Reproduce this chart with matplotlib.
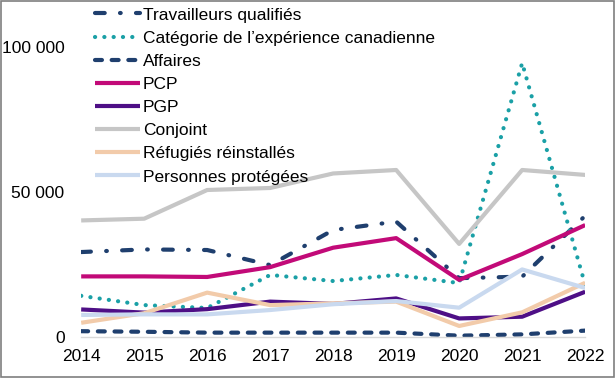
import matplotlib
matplotlib.use("Agg")
import matplotlib.pyplot as plt
from matplotlib.patches import Rectangle
from matplotlib.ticker import FuncFormatter

plt.rcParams['font.family'] = ['Liberation Sans', 'DejaVu Sans']
plt.rcParams['lines.scale_dashes'] = False

years = [2014, 2015, 2016, 2017, 2018, 2019, 2020, 2021, 2022]
travailleurs = [29300, 30200, 30000, 24800, 36900, 39800, 20300, 20800, 41800]
cec = [14200, 11000, 10000, 21400, 19300, 21400, 18600, 94500, 18000]
affaires = [2000, 1800, 1500, 1500, 1500, 1500, 450, 900, 2200]
pcp = [20900, 20900, 20700, 24100, 30800, 34100, 19700, 28600, 38600]
pgp = [9500, 8400, 9600, 12200, 11400, 13300, 6400, 7000, 15600]
conjoint = [40200, 40800, 50700, 51400, 56400, 57600, 32100, 57600, 55900]
refugies = [4900, 8200, 15300, 11000, 11600, 12200, 3800, 8500, 18700]
protegees = [7600, 7800, 7800, 9300, 11300, 12400, 10100, 23300, 16900]

labels = ["Travailleurs qualifiés", "Catégorie de l\u2019expérience canadienne",
          "Affaires", "PCP", "PGP", "Conjoint", "Réfugiés réinstallés",
          "Personnes protégées"]

fig = plt.figure(figsize=(6.15, 3.78), dpi=100)
ax = fig.add_axes([0.132, 0.1085, 0.8195, 0.767])

lw = 3
ax.plot(years, travailleurs, color='#1F3F6E', lw=lw, linestyle=(0, (7, 11, 0.5, 11)),
        dash_capstyle='round', label=labels[0])
ax.plot(years, cec, color='#1AA0A6', lw=lw, linestyle=(0, (0.1, 6.6)),
        dash_capstyle='round', label=labels[1])
ax.plot(years, affaires, color='#1F3F6E', lw=lw, linestyle=(0, (5, 7)),
        dash_capstyle='round', label=labels[2])
ax.plot(years, pcp, color='#C20A78', lw=lw, label=labels[3], solid_capstyle='butt')
ax.plot(years, pgp, color='#4E0F86', lw=lw, label=labels[4], solid_capstyle='butt')
ax.plot(years, conjoint, color='#C6C6C6', lw=lw, label=labels[5], solid_capstyle='butt')
ax.plot(years, refugies, color='#F2CBAA', lw=lw, label=labels[6], solid_capstyle='butt')
ax.plot(years, protegees, color='#C9D9EF', lw=lw, label=labels[7], solid_capstyle='butt')

ax.set_xlim(2014, 2022)
ax.set_ylim(0, 100000)
ax.set_yticks([0, 50000, 100000])
ax.yaxis.set_major_formatter(FuncFormatter(lambda v, p: f"{int(v):,}".replace(",", " ")))
ax.set_xticks(years)
for s in ['top', 'right', 'left']:
    ax.spines[s].set_visible(False)
ax.spines['bottom'].set_color('#D9D9D9')
ax.spines['bottom'].set_linewidth(1)
ax.tick_params(axis='both', length=0, labelsize=12.5, colors='#000000')
ax.tick_params(axis='x', pad=9)
ax.tick_params(axis='y', pad=12)

fig.legend(loc='upper left', bbox_to_anchor=(0.152, 0.985), frameon=False,
           fontsize=12.5, handlelength=2.6, handletextpad=0.15, labelspacing=0.46,
           borderpad=0.1, borderaxespad=0)

fig.patches.append(Rectangle((0.001, 0.002), 0.997, 0.995, transform=fig.transFigure,
                             fill=False, edgecolor='#7F7F7F', lw=1.2))

fig.savefig("out.png", dpi=100)
